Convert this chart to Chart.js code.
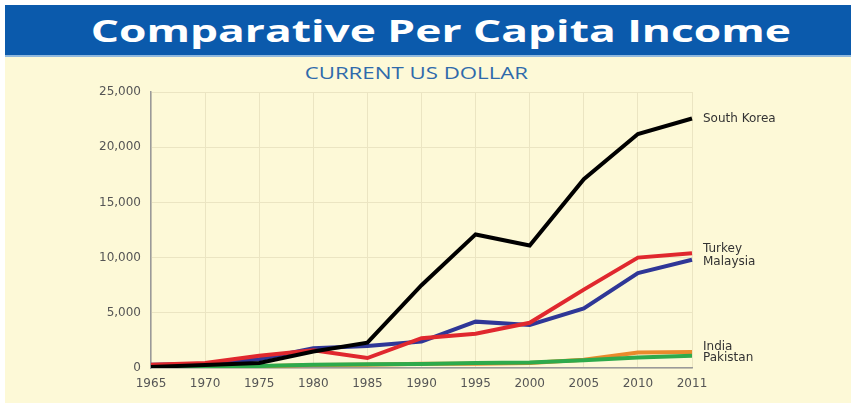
<!DOCTYPE html>
<html>
<head>
<meta charset="utf-8">
<script src="https://cdn.jsdelivr.net/npm/chart.js@4/dist/chart.umd.min.js"></script>
<style>
  body { margin: 0; background: #fff; width: 856px; height: 407px; overflow: hidden; }
  #frame { position: absolute; left: 5px; top: 5px; width: 846px; height: 398px; background: #fdf9d7; }
  #banner { height: 50px; background: #0b5aac; border-bottom: 2px solid #8fb8de; text-align: center; }
  #banner span { display: inline-block; color: #fff; font: bold 31px "Open Sans", sans-serif;
                 line-height: 50px; transform: translateX(13px) scaleX(1.43); }
  #sub { position: absolute; top: 57px; width: 100%; text-align: center; }
  #sub span { display: inline-block; color: #2f6aab; font: 16px "Open Sans", sans-serif;
              transform: translateX(-12px) scaleX(1.39); }
  #wrap { position: absolute; left: 0; top: 55px; width: 846px; height: 343px; }
</style>
</head>
<body>
<div id="frame">
  <div id="banner"><span>Comparative Per Capita Income</span></div>
  <div id="sub"><span>CURRENT US DOLLAR</span></div>
  <div id="wrap"><canvas id="chart"></canvas></div>
</div>
<script>
const years = ['1965','1970','1975','1980','1985','1990','1995','2000','2005','2010','2011'];
const southKorea = [100, 270, 450, 1500, 2300, 7500, 12100, 11100, 17100, 21200, 22600];
const turkey     = [300, 450, 1100, 1600, 900, 2700, 3100, 4100, 7100, 10000, 10400];
const malaysia   = [300, 380, 800, 1800, 2000, 2400, 4200, 3900, 5400, 8600, 9800];
const india      = [100, 110, 160, 270, 300, 380, 380, 450, 740, 1400, 1450];
const pakistan   = [150, 170, 180, 300, 330, 370, 450, 500, 700, 950, 1100];
const yTicks     = [0, 5000, 10000, 15000, 20000, 25000];

// first entry is drawn on top
const series = [
  { label: 'South Korea', data: southKorea, color: '#000000', nudge: 0 },
  { label: 'Turkey',      data: turkey,     color: '#e0282e', nudge: -4 },
  { label: 'Malaysia',    data: malaysia,   color: '#2f3797', nudge: 2 },
  { label: 'Pakistan',    data: pakistan,   color: '#2eaa4c', nudge: 2 },
  { label: 'India',       data: india,      color: '#e98a2c', nudge: -5 }
];

const endLabels = {
  id: 'endLabels',
  afterDatasetsDraw(chart) {
    const ctx = chart.ctx;
    const y = chart.scales.y;
    ctx.save();
    ctx.font = '12px "DejaVu Sans", sans-serif';
    ctx.fillStyle = '#333';
    ctx.textBaseline = 'middle';
    series.forEach(s => {
      const v = s.data[s.data.length - 1];
      ctx.fillText(s.label, chart.chartArea.right + 11, y.getPixelForValue(v) + s.nudge);
    });
    ctx.restore();
  }
};

new Chart(document.getElementById('chart').getContext('2d'), {
  type: 'line',
  data: {
    labels: years,
    datasets: series.map(s => ({
      label: s.label,
      data: s.data,
      borderColor: s.color,
      backgroundColor: s.color,
      borderWidth: 4,
      pointRadius: 0,
      tension: 0
    }))
  },
  options: {
    responsive: true,
    maintainAspectRatio: false,
    animation: false,
    layout: { padding: { left: 0, right: 159, top: 32, bottom: 0 } },
    plugins: { legend: { display: false }, tooltip: { enabled: false } },
    scales: {
      x: {
        offset: false,
        grid: { color: '#ebe5c2', drawTicks: false },
        border: { color: '#9a9a9a', width: 1.5 },
        ticks: { color: '#555', font: { family: 'DejaVu Sans', size: 12 }, padding: 9, maxRotation: 0, autoSkip: false },
        afterFit(scale) { scale.height = 35; }
      },
      y: {
        min: 0, max: 25000,
        afterBuildTicks(scale) { scale.ticks = yTicks.map(v => ({ value: v })); },
        grid: { color: '#ebe5c2', drawTicks: false },
        border: { color: '#9a9a9a', width: 1.5 },
        ticks: { color: '#555', font: { family: 'DejaVu Sans', size: 12 }, padding: 10,
                 callback: v => v.toLocaleString('en-US') },
        afterFit(scale) { scale.width = 146; }
      }
    }
  },
  plugins: [endLabels]
});
</script>
</body>
</html>
